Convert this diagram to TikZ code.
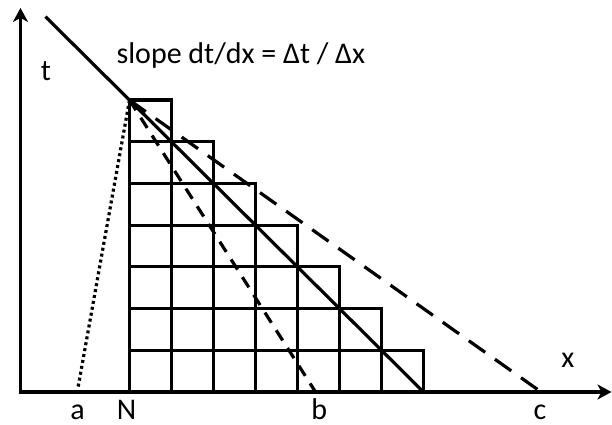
\documentclass[tikz,border=0pt]{standalone}
\usepackage{fontspec}
\setmainfont{Carlito}
\usetikzlibrary{arrows.meta}

\begin{document}
\begin{tikzpicture}[x=21pt, y=20.85pt, line width=1.6pt,
    lbl/.style={font=\fontsize{15}{17}\selectfont, anchor=base, inner sep=0pt},
    axis/.style={line width=1.8pt, {Stealth[length=7pt,width=7.5pt,inset=2pt]}-{Stealth[length=7pt,width=7.5pt,inset=2pt]}},
    shortdash/.style={dash pattern=on 6pt off 4.5pt},
    longdash/.style={dash pattern=on 10pt off 6pt},
    dots/.style={dash pattern=on 1.5pt off 1.5pt}]

  \useasboundingbox (-3.083,-0.791) rectangle (11.488,9.400);

  % ============================================================
  % Axes: t upward, x to the right
  % ============================================================
  \coordinate (ttip)   at (-2.595,9.21);
  \coordinate (origin) at (-2.595,0);
  \coordinate (xtip)   at (11.476,0);
  \draw[axis] (ttip) -- (origin) -- (xtip);

  % ============================================================
  % Staircase of cells: row \i holds 7-\i cells
  % ============================================================
  \foreach \i in {0,...,6}{          % \i = row, 0 at bottom
    \pgfmathtruncatemacro\last{6-\i}
    \foreach \j in {0,...,\last}{    % \j = column, 0 at N
      \draw (\j,\i) rectangle (\j+1,\i+1);
    }
  }

  % ============================================================
  % Lines through the top cell corner
  % ============================================================
  \coordinate (apex)  at (0,7);
  \coordinate (start) at (-2,9);
  \coordinate (end)   at (7,0);
  \coordinate (pa)    at (-1.23,0.08);
  \coordinate (pb)    at (4.43,0);
  \coordinate (pc)    at (9.8,0);

  \draw (start) -- (end);
  \draw[shortdash] (apex) -- (pb);
  \draw[longdash]  (apex) -- (pc);
  \draw[dots]      (apex) -- (pa);

  % ============================================================
  % Labels
  % ============================================================
  \node[lbl] (tlab) at (-1.988,7.48) {t};
  \node[lbl] (xlab) at (10.44,0.576) {x};
  \node[lbl, anchor=base west] (slope) at (-0.345,7.866)
        {slope dt/dx = Δt / Δx};

  \node[lbl] (alab) at (-1.238,-0.66) {a};
  \node[lbl] (nlab) at (-0.07,-0.66)  {N};
  \node[lbl] (blab) at (4.52,-0.66)   {b};
  \node[lbl] (clab) at (9.77,-0.66)   {c};

\end{tikzpicture}
\end{document}
